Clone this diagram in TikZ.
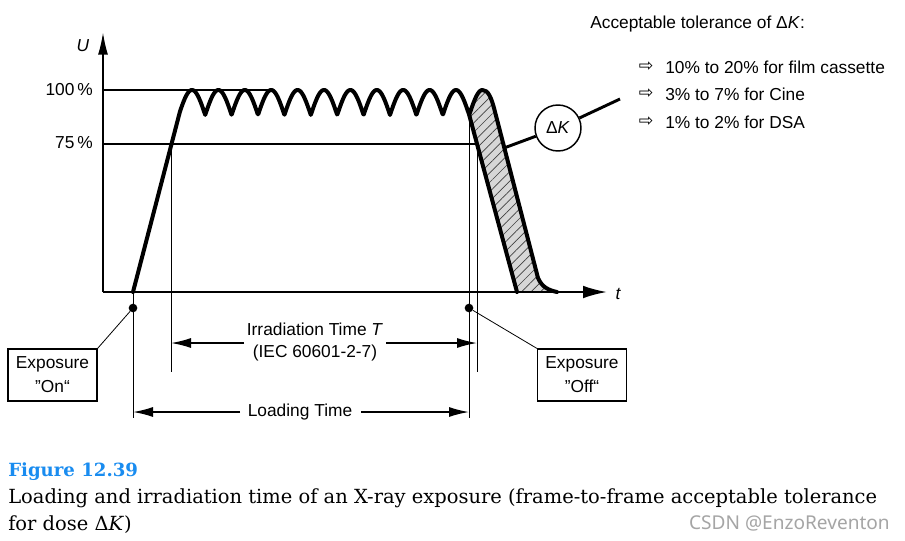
\documentclass[tikz,border=0pt]{standalone}
\usepackage{fontspec}
\setmainfont{Liberation Sans}
\newfontfamily\arrowfont{DejaVu Sans}
\newfontfamily\capfont{DejaVu Serif}
\newfontfamily\wmfont{Noto Sans}
\usetikzlibrary{arrows.meta,patterns.meta}
\definecolor{capblue}{RGB}{25,140,240}
\definecolor{hatchgray}{RGB}{215,215,215}
\definecolor{wmgray}{RGB}{165,165,165}
\begin{document}
\begin{tikzpicture}[x=0.75pt,y=-0.75pt,
  lbl/.style={font=\fontsize{13}{15}\selectfont, inner sep=0pt},
  thickcurve/.style={line width=3pt, line join=round, line cap=round},
  axisline/.style={line width=1.5pt, -{Latex[length=18pt,width=9.5pt]}},
  refline/.style={line width=1.1pt},
  thinline/.style={line width=0.7pt},
  dimarrow/.style={line width=1.1pt, -{Latex[length=15pt,width=7.5pt]}},
  boxlbl/.style={draw, line width=0.9pt, font=\fontsize{13}{18}\selectfont, align=center,
    minimum width=66.75pt, minimum height=39pt, inner sep=0pt},
  dot/.style={circle, fill=black, minimum size=6.5pt, inner sep=0pt},
  leader/.style={line width=0.6pt},
  dkline/.style={line width=2.2pt},
  arrowsym/.style={inner sep=0pt, font=\arrowfont\fontsize{13}{15}\selectfont}
]
\fill[white] (0,0) rectangle (905,540);
\useasboundingbox (0,0) rectangle (905,540);

% coordinates
\coordinate (O) at (103,292);
\coordinate (Ytop) at (103,32);
\coordinate (Xend) at (607,292);
\coordinate (H100a) at (103,90);
\coordinate (H100b) at (270,90);
\coordinate (H75a) at (103,144);
\coordinate (H75b) at (477,144);
\coordinate (rampStart) at (133,292);
\coordinate (cusp) at (469.2,115);
\coordinate (fallFoot) at (517,292);
\coordinate (tailEnd) at (557,292);

% hatched area
\fill[hatchgray] plot[domain=469.2:482.4,samples=40] (\x,{90+25*(1-abs(cos((\x-192)*6.81818)))})
  .. controls (488,90) and (491,97) .. (494,108) -- (538,278)
  .. controls (542,287) and (548,290) .. (tailEnd) -- (fallFoot) -- cycle;
\fill[pattern={Lines[angle=45,distance=5pt,line width=0.5pt]}, pattern color=black!75]
  plot[domain=469.2:482.4,samples=40] (\x,{90+25*(1-abs(cos((\x-192)*6.81818)))})
  .. controls (488,90) and (491,97) .. (494,108) -- (538,278)
  .. controls (542,287) and (548,290) .. (tailEnd) -- (fallFoot) -- cycle;

% reference lines
\draw[refline] (H100a) -- (H100b);
\draw[refline] (H75a) -- (H75b);

% vertical thin lines
\coordinate (v1b) at (133,418);
\coordinate (v2t) at (171,144);
\coordinate (v2b) at (171,372);
\coordinate (v3t) at (469,110);
\coordinate (v3b) at (469,418);
\coordinate (v4b) at (477,372);
\draw[thinline] (rampStart) -- (v1b);
\draw[thinline] (v2t) -- (v2b);
\draw[thinline] (v3t) -- (v3b);
\draw[thinline] (H75b) -- (v4b);

% curve
\draw[thickcurve] (rampStart) -- (180,111.4) -- plot[domain=180:482.4,samples=600] (\x,{90+25*(1-abs(cos((\x-192)*6.81818)))})
  .. controls (488,90) and (491,97) .. (494,108) -- (538,278)
  .. controls (542,287) and (548,290) .. (tailEnd);
\draw[thickcurve] (cusp) -- (fallFoot);

% axes
\draw[axisline] (O) -- (Xend);
\draw[line width=1.5pt, -{Latex[length=17pt,width=7.5pt]}] (O) -- (Ytop);
\node[lbl] (U) at (83,46) {\itshape U};
\node[lbl] (t) at (618,294) {\itshape t};
\node[lbl, anchor=east] (p100) at (93,90) {100\,\%};
\node[lbl, anchor=east] (p75) at (93,143) {75\,\%};

% Delta K
\coordinate (rb) at (504,148);
\coordinate (dkend) at (620,99);
\node[draw, circle, line width=1.1pt, minimum size=34.5pt, inner sep=0pt, lbl, fill=white] (dk) at (558,128) {Δ\textit{K}};
\draw[dkline] (rb) -- (dk);
\draw[dkline] (dk) -- (dkend);

% tolerance text
\node[lbl, anchor=west] (acc) at (590,24) {Acceptable tolerance of Δ\textit{K}:};
\node[arrowsym] (a1) at (646,67) {⇨};
\node[arrowsym] (a2) at (646,94) {⇨};
\node[arrowsym] (a3) at (646,122) {⇨};
\node[lbl, anchor=west] (t1) at (665,67) {10\% to 20\% for film cassette};
\node[lbl, anchor=west] (t2) at (665,94) {3\% to 7\% for Cine};
\node[lbl, anchor=west] (t3) at (665,122) {1\% to 2\% for DSA};

% dots and boxes
\node[dot] (dOn) at (133,308) {};
\node[dot] (dOff) at (469,308) {};
\node[boxlbl] (on) at (52.5,375) {Exposure\\”On“};
\node[boxlbl] (off) at (582,375) {Exposure\\”Off“};
\draw[leader] (on.north east) -- (dOn);
\draw[leader] (off.north west) -- (dOff);

% irradiation time
\node[lbl, font=\fontsize{13}{16.5}\selectfont, align=center] (irr) at (315,342) {Irradiation Time \textit{T}\\(IEC 60601-2-7)};
\coordinate (irrL) at (244,343);
\coordinate (irrLe) at (171,343);
\coordinate (irrR) at (386,343);
\coordinate (irrRe) at (477,343);
\draw[dimarrow] (irrL) -- (irrLe);
\draw[dimarrow] (irrR) -- (irrRe);

% loading time
\node[lbl] (load) at (300,412) {Loading Time};
\coordinate (ldL) at (240,412);
\coordinate (ldLe) at (133,412);
\coordinate (ldR) at (361,412);
\coordinate (ldRe) at (469,412);
\draw[dimarrow] (ldL) -- (ldLe);
\draw[dimarrow] (ldR) -- (ldRe);

% caption
\node[anchor=base west, inner sep=0pt, font=\capfont\bfseries\fontsize{13.6}{16}\selectfont, text=capblue] (fig) at (8,476) {Figure 12.39};
\node[anchor=base west, inner sep=0pt, font=\capfont\fontsize{14.6}{17}\selectfont] (cap1) at (8,503) {Loading and irradiation time of an X-ray exposure (frame-to-frame acceptable tolerance};
\node[anchor=base west, inner sep=0pt, font=\capfont\fontsize{14.6}{17}\selectfont] (cap2) at (8,530) {for dose Δ\textit{K})};
\node[anchor=base east, inner sep=0pt, font=\wmfont\fontsize{14.3}{16}\selectfont, text=wmgray] (wm) at (890,529) {CSDN @EnzoReventon};
\end{tikzpicture}
\end{document}
